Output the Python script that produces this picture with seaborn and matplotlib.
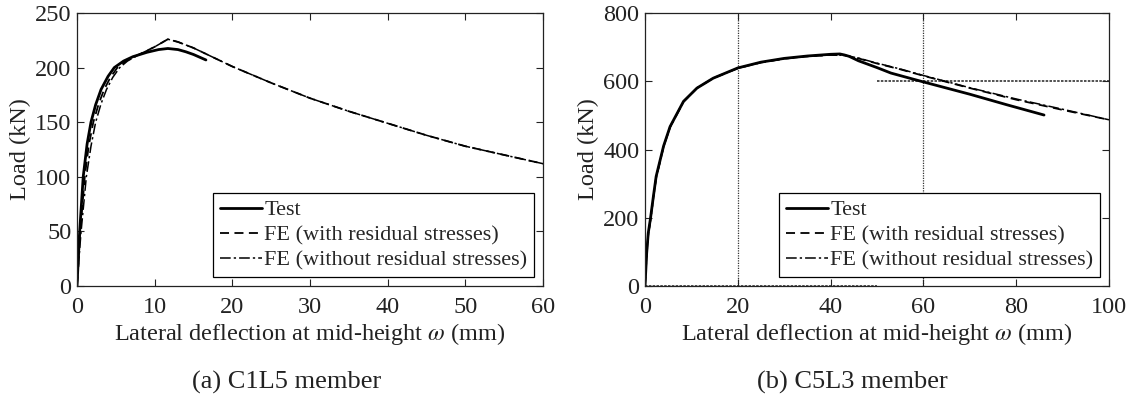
import numpy as np
import pandas as pd
import matplotlib
matplotlib.use("Agg")
import matplotlib.pyplot as plt
import seaborn as sns
from matplotlib.lines import Line2D

# ---------------- data ----------------
# (a) C1L5 member
a_test_x = [0, 0.3, 0.8, 1.3, 1.8, 2.4, 3.1, 4.0, 4.8, 6.0, 7.2, 9.0, 10.5, 11.7, 13.0, 14.0, 15.0, 16.6]
a_test_y = [0, 45, 100, 130, 150, 166, 180, 192, 200, 206, 210, 214, 216.5, 217.5, 216.5, 214.5, 212, 207]
a_fe_x = [0, 0.4, 1.0, 1.5, 2.1, 2.8, 3.5, 4.3, 5.2, 6.5, 8.0, 10.0, 11.7, 13.0, 15.0, 20.0, 25.0, 30.0, 35.0, 40.0, 45.0, 50.0, 55.0, 60.0]
a_fe_y = [0, 48, 100, 128, 150, 167, 180, 191, 200, 207, 212, 219, 226, 223.5, 218, 201, 186, 172, 160, 149, 138, 128, 120, 112]
a_fe0_x = [0, 0.5, 1.2, 1.8, 2.4, 3.1, 3.8, 4.6, 5.5, 6.5, 8.0, 10.0, 11.7, 13.0, 15.0, 20.0, 25.0, 30.0, 35.0, 40.0, 45.0, 50.0, 55.0, 60.0]
a_fe0_y = [0, 48, 100, 128, 150, 167, 180, 191, 200, 206, 212, 219, 226, 223.5, 218, 201, 186, 172, 160, 149, 138, 128, 120, 112]

# (b) C5L3 member
b_test_x = [0, 0.36, 0.7, 1.2, 1.8, 2.4, 3.1, 4.0, 5.4, 8.3, 11.2, 14.7, 20, 25, 30, 35, 40, 42, 43, 44, 46, 50, 53, 60, 70, 78, 86]
b_test_y = [0, 96, 155, 200, 262, 321, 360, 410, 467, 541, 580, 609, 639, 656, 667, 674, 679, 680, 677, 673, 660, 640, 624, 598, 562, 531, 501]
b_fe_x = [0, 0.36, 0.7, 1.2, 1.8, 2.4, 3.1, 4.0, 5.4, 8.3, 11.2, 14.7, 20, 25, 30, 35, 40, 43, 46, 50, 55, 60, 70, 80, 90, 100]
b_fe_y = [0, 90, 150, 196, 258, 318, 357, 408, 466, 540, 580, 609, 638, 655, 666, 673, 677, 676, 667, 652, 635, 616, 580, 546, 516, 487]
b_fe0_x = [0, 0.36, 0.7, 1.2, 1.8, 2.4, 3.1, 4.0, 5.4, 8.3, 11.2, 14.7, 20, 25, 30, 35, 40, 43, 46, 50, 55, 60, 70, 80, 90, 100]
b_fe0_y = [0, 88, 148, 194, 256, 316, 356, 407, 465, 540, 580, 609, 638, 655, 666, 673, 677, 676, 668, 653, 636, 617, 581, 548, 518, 487]

# faint dotted guide lines visible in panel (b)
b_guide_x = [20, 60]
b_guide_h = [(600, 50, 100), (0, 0, 50)]

labels = ["Test", "FE (with residual stresses)", "FE (without residual stresses)"]
captions = ["(a) C1L5 member", "(b) C5L3 member"]
xlabel = r"Lateral deflection at mid-height $\omega$ (mm)"
ylabel = "Load (kN)"
a_xticks = [0, 10, 20, 30, 40, 50, 60]
a_yticks = [0, 50, 100, 150, 200, 250]
b_xticks = [0, 20, 40, 60, 80, 100]
b_yticks = [0, 200, 400, 600, 800]

# ---------------- style ----------------
sns.set_theme(style="ticks")
plt.rcParams["font.family"] = ["Liberation Serif", "DejaVu Serif"]
plt.rcParams["mathtext.fontset"] = "stix"
plt.rcParams["axes.edgecolor"] = "black"
plt.rcParams["axes.linewidth"] = 0.9

TICK_FS = 17.5
LAB_FS = 17.5
LEG_FS = 16
CAP_FS = 19
TXT = "#222222"
styles = [dict(linestyle="-", linewidth=2.0),
          dict(linestyle=(0, (5, 3)), linewidth=1.3),
          dict(linestyle=(0, (7, 2, 1.5, 2)), linewidth=1.1)]

fig = plt.figure(figsize=(11.4, 4.0), dpi=100)
W, H = 1140, 400
axA = fig.add_axes([77 / W, (H - 286) / H, (543 - 77) / W, (286 - 13) / H])
axB = fig.add_axes([645 / W, (H - 286) / H, (1109 - 645) / W, (286 - 13) / H])


def draw(ax, series, xlim, ylim, xt, yt):
    for (xs, ys), st in zip(series, styles):
        df = pd.DataFrame({"x": xs, "y": ys})
        sns.lineplot(data=df, x="x", y="y", ax=ax, color="black", sort=False,
                     estimator=None, **st)
    ax.set_xlim(*xlim)
    ax.set_ylim(*ylim)
    ax.set_xticks(xt)
    ax.set_yticks(yt)
    ax.tick_params(direction="in", top=True, right=True, length=5, width=0.8,
                   labelsize=TICK_FS, colors=TXT, labelcolor=TXT)
    ax.tick_params(axis="x", pad=8)
    ax.tick_params(axis="y", pad=4)
    ax.set_xlabel(xlabel, fontsize=LAB_FS, color=TXT, labelpad=2)
    ax.set_ylabel(ylabel, fontsize=LAB_FS, color=TXT, labelpad=3)
    for s in ax.spines.values():
        s.set_visible(True)
        s.set_color(TXT)
    handles = [Line2D([], [], color="black", **st) for st in styles]
    leg = ax.legend(handles, labels, loc="lower right", fontsize=LEG_FS,
                    frameon=True, fancybox=False, framealpha=1, edgecolor="black",
                    handlelength=1.9, handletextpad=0.1, labelspacing=0.2,
                    borderpad=0.3, borderaxespad=0.4)
    leg.get_frame().set_linewidth(0.9)


draw(axA, [(a_test_x, a_test_y), (a_fe_x, a_fe_y), (a_fe0_x, a_fe0_y)],
     (0, 60), (0, 250), a_xticks, a_yticks)
draw(axB, [(b_test_x, b_test_y), (b_fe_x, b_fe_y), (b_fe0_x, b_fe0_y)],
     (0, 100), (0, 800), b_xticks, b_yticks)

for gx in b_guide_x:
    axB.axvline(gx, color="#333333", linestyle=(0, (1, 1)), linewidth=0.9, zorder=0)
for gy, x0, x1 in b_guide_h:
    axB.hlines(gy, x0, x1, color="#333333", linestyle=(0, (1.5, 0.8)), linewidth=1.2, zorder=0)

fig.text(287 / W, 1 - 382 / H, captions[0], ha="center", va="center",
         fontsize=CAP_FS, color=TXT)
fig.text(852 / W, 1 - 382 / H, captions[1], ha="center", va="center",
         fontsize=CAP_FS, color=TXT)

fig.savefig("out.png", dpi=100)
